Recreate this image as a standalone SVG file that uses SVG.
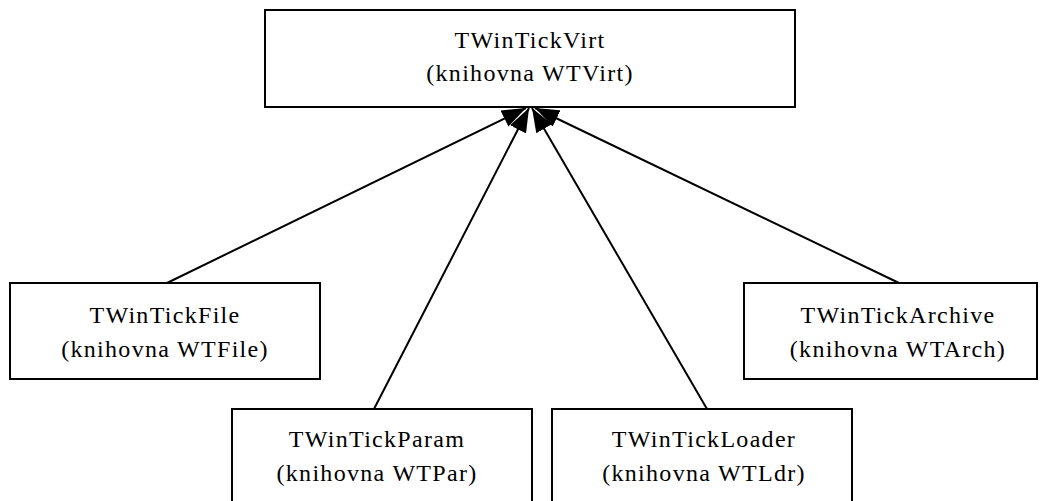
<svg xmlns="http://www.w3.org/2000/svg" width="1047" height="501" viewBox="0 0 1047 501">
<style>
.box{fill:#fff;stroke:#000;stroke-width:2}
.t{font-family:"Liberation Serif","Times New Roman",serif;font-size:24px;fill:#000;text-anchor:middle;letter-spacing:1.3px}
.c{stroke:#000;stroke-width:2;fill:none}
</style>
<defs>
<marker id="ah" viewBox="0 0 24 18" refX="24" refY="9" markerWidth="24" markerHeight="18" markerUnits="userSpaceOnUse" orient="auto">
<path d="M0,0 L24,9 L0,18 Z" fill="#000"/>
</marker>
</defs>
<rect width="1047" height="501" fill="#fff"/>
<g id="connectors">
<line class="c" x1="167" y1="283" x2="526" y2="108" marker-end="url(#ah)"/>
<line class="c" x1="374" y1="409" x2="529" y2="108" marker-end="url(#ah)"/>
<line class="c" x1="707" y1="409" x2="532" y2="108" marker-end="url(#ah)"/>
<line class="c" x1="899" y1="283" x2="535" y2="108" marker-end="url(#ah)"/>
</g>
<g id="virt">
<rect class="box" x="265" y="10" width="530" height="97"/>
<text class="t" x="530" y="48">TWinTickVirt</text>
<text class="t" x="530" y="81">(knihovna WTVirt)</text>
</g>
<g id="file">
<rect class="box" x="10" y="283" width="310" height="96"/>
<text class="t" x="165" y="323">TWinTickFile</text>
<text class="t" x="165" y="357">(knihovna WTFile)</text>
</g>
<g id="param">
<rect class="box" x="232" y="409" width="300" height="100"/>
<text class="t" x="377" y="447">TWinTickParam</text>
<text class="t" x="377" y="481">(knihovna WTPar)</text>
</g>
<g id="loader">
<rect class="box" x="552" y="409" width="300" height="100"/>
<text class="t" x="704" y="447">TWinTickLoader</text>
<text class="t" x="704" y="481">(knihovna WTLdr)</text>
</g>
<g id="archive">
<rect class="box" x="744" y="283" width="293" height="96"/>
<text class="t" x="898" y="323">TWinTickArchive</text>
<text class="t" x="898" y="357">(knihovna WTArch)</text>
</g>
</svg>
